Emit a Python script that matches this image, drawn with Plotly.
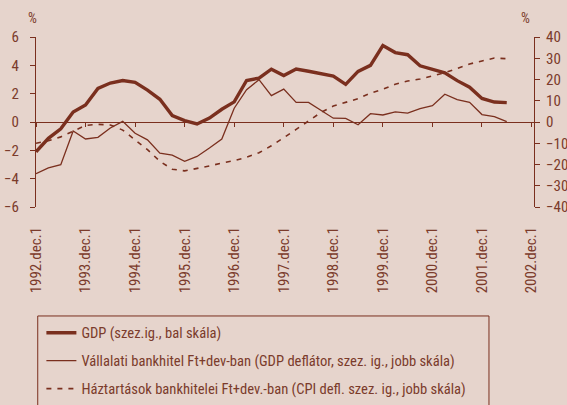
import plotly.graph_objects as go

# quarter index: 0 = 1992.dec, 40 = 2002.dec
tick_labels = ["1992.dec.1", "1993.dec.1", "1994.dec.1", "1995.dec.1", "1996.dec.1",
               "1997.dec.1", "1998.dec.1", "1999.dec.1", "2000.dec.1", "2001.dec.1", "2002.dec.1"]
tick_positions = [0, 4, 8, 12, 16, 20, 24, 28, 32, 36, 40]

gdp = [-2.1, -1.15, -0.48, 0.7, 1.2, 2.37, 2.75, 2.93, 2.8, 2.25, 1.6, 0.45, 0.1, -0.14,
       0.28, 0.9, 1.42, 2.93, 3.1, 3.73, 3.28, 3.74, 3.58, 3.44, 3.24, 2.66, 3.57, 4.0,
       5.4, 4.9, 4.75, 3.97, 3.7, 3.47, 2.92, 2.46, 1.66, 1.41, 1.37]
vallalati = [-24.3, -21.6, -20.1, -4.2, -8.0, -7.2, -2.8, 0.3, -5.3, -8.4, -14.7, -15.6,
             -18.5, -16.2, -12.2, -8.0, 6.5, 15.2, 19.9, 12.4, 15.5, 9.2, 9.2, 5.6, 1.8,
             1.7, -1.3, 3.9, 3.3, 4.8, 4.2, 6.3, 7.7, 13.1, 10.5, 9.3, 3.5, 2.5, 0.2]
haztartasok = [-10.0, -8.8, -7.0, -4.2, -1.6, -1.1, -1.4, -3.8, -8.3, -13.0, -18.5, -22.2,
               -23.0, -22.0, -20.7, -19.3, -18.2, -16.6, -14.5, -11.2, -7.5, -3.5, 0.5,
               4.5, 7.5, 9.3, 11.0, 13.6, 15.4, 17.8, 19.3, 20.2, 21.8, 23.2, 25.2, 27.3,
               28.7, 30.1, 29.8]
quarters = list(range(len(gdp)))

names = ["GDP (szez.ig., bal skála)",
         "Vállalati bankhitel Ft+dev-ban (GDP deflátor, szez. ig., jobb skála)",
         "Háztartások bankhitelei Ft+dev.-ban (CPI defl. szez. ig., jobb skála)"]

BG = "#e6d4cc"
LINE = "#7a2f1e"
TXT = "#7b3b2b"
FONT = "Liberation Sans Narrow, Arial Narrow, Roboto Condensed, Liberation Sans, sans-serif"
XR = [0, 40.2]

fig = go.Figure()
fig.add_trace(go.Scatter(x=quarters, y=gdp, mode="lines", name=names[0],
                         line=dict(color=LINE, width=3.4), legendgroup="a",
                         xaxis="x", yaxis="y"))
fig.add_trace(go.Scatter(x=quarters, y=vallalati, mode="lines", name=names[1],
                         line=dict(color=LINE, width=1.3), legendgroup="b",
                         xaxis="x2", yaxis="y2"))
fig.add_trace(go.Scatter(x=quarters, y=haztartasok, mode="lines", name=names[2],
                         line=dict(color=LINE, width=1.6, dash="5px,6px"), legendgroup="c",
                         xaxis="x2", yaxis="y2"))

fig.update_layout(
    width=567, height=405,
    paper_bgcolor=BG, plot_bgcolor=BG,
    margin=dict(l=36, r=33, t=37, b=198, autoexpand=False),
    font=dict(family=FONT, color=TXT, size=15),
    showlegend=True,
    legend=dict(xref="container", yref="container", x=0.073, y=0.218,
                xanchor="left", yanchor="top",
                bgcolor="rgba(0,0,0,0)", borderwidth=0,
                font=dict(family=FONT, size=14.6, color=TXT),
                traceorder="grouped", tracegroupgap=6, itemwidth=30),
    xaxis=dict(range=XR, tickmode="array", tickvals=tick_positions,
               ticktext=tick_labels, tickangle=-90, showline=False, ticks="",
               showgrid=False, zeroline=False, ticklabelstandoff=16,
               tickfont=dict(size=15, color=TXT, family=FONT)),
    xaxis2=dict(range=XR, overlaying="x", anchor="free", position=0.5, side="bottom",
                tickmode="array", tickvals=tick_positions, showticklabels=False,
                showline=True, linecolor=LINE, linewidth=1, ticks="outside",
                ticklen=4, tickcolor=LINE, tickwidth=1, showgrid=False, zeroline=False),
    yaxis=dict(range=[-6, 6], dtick=2, showline=True, linecolor=LINE, linewidth=1,
               ticks="outside", ticklen=5, tickcolor=LINE, tickwidth=1, showgrid=False,
               zeroline=False, tickfont=dict(size=15, color=TXT, family=FONT),
               ticklabelstandoff=8),
    yaxis2=dict(range=[-40, 40], dtick=10, overlaying="y", side="right", anchor="x",
                showline=True, linecolor=LINE, linewidth=1, ticks="outside", ticklen=5,
                tickcolor=LINE, tickwidth=1, showgrid=False, zeroline=False,
                tickfont=dict(size=15, color=TXT, family=FONT), ticklabelstandoff=3),
    yaxis3=dict(range=[-40, 40], dtick=10, overlaying="y", side="right", anchor="x",
                showline=False, ticks="inside", ticklen=5, tickcolor=LINE, tickwidth=1,
                showticklabels=False, showgrid=False, zeroline=False),
)

# legend frame (decorative box around the legend, extends past the bottom edge)
fig.add_shape(type="rect", xref="paper", yref="paper",
              x0=0.0035, x1=0.9096, y0=-0.641, y1=-1.3,
              line=dict(color=LINE, width=1), fillcolor="rgba(0,0,0,0)")

fig.add_annotation(text="%", xref="paper", yref="paper", x=-0.008, y=1.05,
                   xanchor="center", yanchor="bottom", showarrow=False,
                   font=dict(size=14, color=TXT, family=FONT))
fig.add_annotation(text="%", xref="paper", yref="paper", x=0.982, y=1.05,
                   xanchor="center", yanchor="bottom", showarrow=False,
                   font=dict(size=14, color=TXT, family=FONT))

fig.write_html("out.html", post_script="document.body.style.margin='0';",
               config={"displayModeBar": False})
